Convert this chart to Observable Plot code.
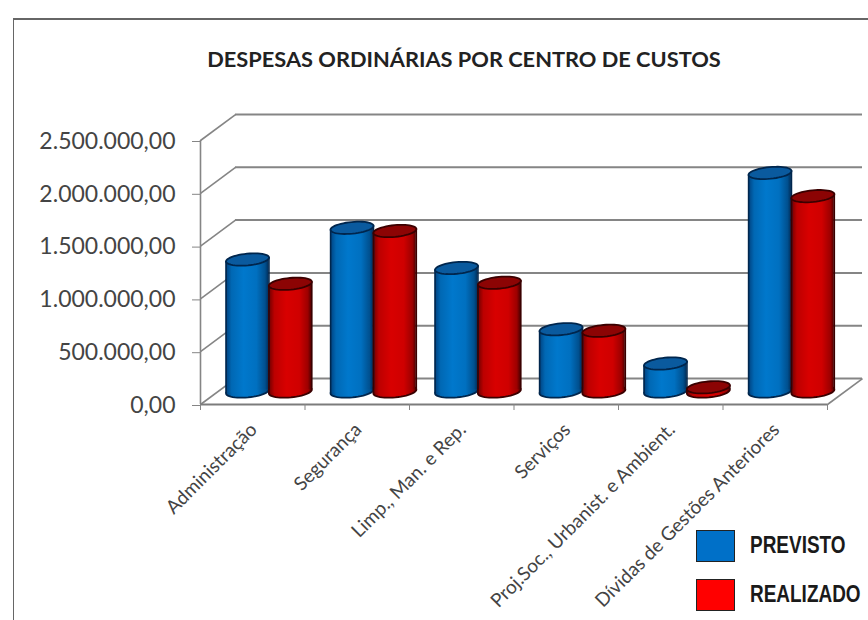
<!DOCTYPE html>
<html><head><meta charset="utf-8">
<script src="https://cdn.jsdelivr.net/npm/d3@7"></script>
<script src="https://cdn.jsdelivr.net/npm/@observablehq/plot@0.6"></script>
<style>
html,body{margin:0;padding:0;background:#fff}
#wrap{position:relative;width:868px;height:620px;overflow:hidden}
#frame{position:absolute;left:13px;top:18px;width:860px;height:610px;border:1.5px solid #666;border-top-width:2px;box-sizing:border-box}
#title{position:absolute;left:64px;width:800px;top:45px;text-align:center;font:bold 21.8px Lato,sans-serif;color:#222;white-space:nowrap}
.sw{position:absolute;left:696px;width:39px;height:32px;border:1px solid #222;box-sizing:border-box}
.lg{position:absolute;left:750px;font:bold 24px "Liberation Sans",sans-serif;color:#1a1a1a;white-space:nowrap;transform:scaleX(.79);transform-origin:left center}
#chart{position:absolute;left:0;top:0}
</style></head><body>
<div id="wrap"><div id="frame"></div><div id="chart"></div>
<div id="title">DESPESAS ORDINÁRIAS POR CENTRO DE CUSTOS</div>
<div class="sw" style="top:530px;background:#0070c8"></div><div class="lg" style="top:531px">PREVISTO</div>
<div class="sw" style="top:579px;background:#ff0000"></div><div class="lg" style="top:580px">REALIZADO</div>
</div>
<script>
const categories = ["Administração","Segurança","Limp., Man. e Rep.","Serviços","Proj.Soc., Urbanist. e Ambient.","Dívidas de Gestões Anteriores"];
const previsto  = [1250000,1550000,1170000,590000,265000,2070000];
const realizado = [1020000,1520000,1030000,575000,40000,1850000];
const yTicks = [0,500000,1000000,1500000,2000000,2500000];

const fmt = d3.formatLocale({decimal:",",thousands:".",grouping:[3],currency:["",""]}).format(",.2f");
const depthX = 0.335, depthY = 246000, baseY = 123000, tilt = 20000;
const barW = 0.41, barStart = 0.245;
const bars = [];
categories.forEach((c,i)=>{
  bars.push({i,c,s:"p",v:previsto[i],x1:i+barStart,x2:i+barStart+barW});
  bars.push({i,c,s:"r",v:realizado[i],x1:i+barStart+barW,x2:i+barStart+2*barW});
});
const sides = bars.flatMap((b,k)=>[
  {k,s:b.s,x:b.x1,y1:baseY-tilt,y2:baseY+b.v-tilt},
  {k,s:b.s,x:b.x2,y1:baseY+tilt,y2:baseY+b.v+tilt}]);
const ellipse = {draw(ctx,size){
  const a=Math.sqrt(size/Math.PI), b=a*0.27, th=-5.5*Math.PI/180, n=48;
  for(let j=0;j<=n;j++){const t=j/n*2*Math.PI;
    const px=a*Math.cos(t)*Math.cos(th)-b*Math.sin(t)*Math.sin(th);
    const py=a*Math.cos(t)*Math.sin(th)+b*Math.sin(t)*Math.cos(th);
    j?ctx.lineTo(px,py):ctx.moveTo(px,py);}
  ctx.closePath();}};
const defs = () => {
  const s=d3.create("svg:g");
  const d=s.append("defs");
  [["gp",[[0,"#003f7c"],[.14,"#0068b4"],[.42,"#0078cc"],[.72,"#0070c0"],[.92,"#00508f"],[1,"#002f5c"]]],
   ["gr",[[0,"#6a0000"],[.14,"#bc0000"],[.42,"#d80000"],[.72,"#cf0000"],[.92,"#9c0000"],[1,"#500000"]]]].forEach(([id,cs])=>{
    const g=d.append("linearGradient").attr("id",id);
    cs.forEach(([o,c])=>g.append("stop").attr("offset",o).attr("stop-color",c));
  });
  return s.node();
};
const grad = d=>d.s==="p"?"url(#gp)":"url(#gr)";
const edge = d=>d.s==="p"?"#00264d":"#3a0000";
const cap  = d=>d.s==="p"?"#0a5a9e":"#8c0404";
const gridColor="#858585";

const plot = Plot.plot({
  width:868,height:620,marginLeft:200,marginRight:41,marginTop:140,marginBottom:216,
  style:{background:"transparent",overflow:"visible"},
  x:{domain:[0,6],axis:null},
  y:{domain:[0,2500000],axis:null},
  marks:[
    defs,
    Plot.ruleY(yTicks,{x1:depthX,x2:6+depthX,y:d=>d+depthY,stroke:gridColor,strokeWidth:2}),
    Plot.link(yTicks,{x1:0,x2:depthX,y1:d=>d,y2:d=>d+depthY,stroke:gridColor,strokeWidth:1.6}),
    Plot.link([0],{x1:6,x2:6+depthX,y1:0,y2:depthY,stroke:gridColor,strokeWidth:1.6}),
    Plot.ruleX([0],{y1:0,y2:2500000,stroke:gridColor,strokeWidth:1.6}),
    Plot.ruleY([0],{x1:0,x2:6,stroke:"#7c7c7c",strokeWidth:2}),
    Plot.axisY({ticks:yTicks,tickSize:8,tickPadding:17,tickFormat:fmt,label:null,fontSize:23,color:"#444",stroke:gridColor,fontFamily:"Lato",anchor:"left",dy:1}),
    Plot.axisX({ticks:d3.range(7),tickSize:6,tickFormat:()=>"",label:null,stroke:gridColor,anchor:"bottom"}),
    Plot.dot(bars,{x:d=>(d.x1+d.x2)/2,y:()=>baseY,r:21.6,symbol:ellipse,fill:grad,stroke:edge,strokeWidth:1.8}),
    Plot.areaY(sides,{x:"x",y1:"y1",y2:"y2",z:"k",fill:grad}),
    Plot.ruleX(sides,{x:"x",y1:"y1",y2:"y2",stroke:edge,strokeWidth:1.6}),
    Plot.dot(bars,{x:d=>(d.x1+d.x2)/2,y:d=>baseY+d.v,r:21.6,symbol:ellipse,fill:cap,stroke:edge,strokeWidth:1.8}),
    Plot.text(categories,{x:(d,i)=>i+0.5,y:()=>0,text:d=>d,rotate:-45,textAnchor:"end",dx:1,dy:22,fontSize:19,fill:"#444",fontFamily:"Lato"})
  ]
});
document.getElementById("chart").appendChild(plot);
</script></body></html>
